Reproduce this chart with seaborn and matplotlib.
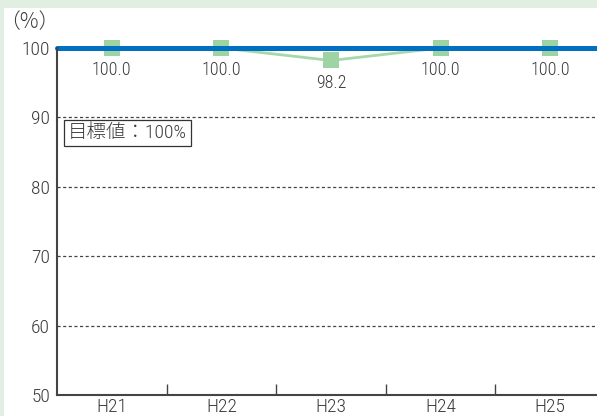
import matplotlib
matplotlib.use("Agg")
import matplotlib.pyplot as plt
import seaborn as sns
import pandas as pd
from matplotlib.patches import Rectangle

categories = ["H21", "H22", "H23", "H24", "H25"]
values = [100.0, 100.0, 98.2, 100.0, 100.0]
target = 100
yticks = [50, 60, 70, 80, 90, 100]
target_label = "目標値：100%"
unit_label = "（%）"

sns.set_style("white")
FONTS = ['Roboto Condensed', 'Archivo Narrow', 'PT Sans Narrow', 'Noto Sans CJK JP', 'DejaVu Sans']
plt.rcParams['font.family'] = FONTS
plt.rcParams['font.weight'] = 'light'
plt.rcParams['xtick.bottom'] = True
plt.rcParams['ytick.left'] = False

TXT = "#3a3a3a"

fig = plt.figure(figsize=(5.97, 4.16), dpi=100)
fig.patch.set_facecolor("#e0efe2")
fig.patches.append(Rectangle((4 / 597, 0), 1, 1 - 8 / 416, transform=fig.transFigure,
                             facecolor="white", edgecolor="none", zorder=-10))

ax = fig.add_axes([57 / 597, 21 / 416, 548 / 597, (395 - 48) / 416])
ax.set_facecolor("none")

df = pd.DataFrame({"x": range(len(categories)), "y": values})
sns.lineplot(data=df, x="x", y="y", ax=ax, color="#a6d8aa", linewidth=2,
             marker="s", markersize=12, markeredgewidth=0,
             markerfacecolor="#9ed3a3", zorder=3, clip_on=False)
ax.axhline(target, color="#0070c0", linewidth=3.6, zorder=4, clip_on=False)

for xi, v in zip(df["x"], values):
    ax.annotate(f"{v:.1f}", (xi, v), xytext=(0, -16), textcoords="offset points",
                ha="center", va="center", fontsize=13, color=TXT)

ax.set_xlim(-0.5, len(categories) - 0.5)
ax.set_ylim(50, 100)
ax.set_yticks(yticks)
ax.set_yticklabels([str(t) for t in yticks], fontsize=14, color=TXT)
ax.set_xticks(range(len(categories)))
ax.set_xticklabels(categories, fontsize=14, color=TXT)
ax.tick_params(axis="x", which="major", length=0, pad=2)
ax.tick_params(axis="y", length=0, pad=5)
ax.set_xticks([i + 0.5 for i in range(len(categories) - 1)], minor=True)
ax.tick_params(axis="x", which="minor", bottom=True, direction="in", length=8, width=1, color="#444444")

for t in yticks[1:-1]:
    ax.axhline(t, color="#444444", linewidth=0.9, linestyle=(0, (2.5, 2)), zorder=1)

for s in ["top", "right"]:
    ax.spines[s].set_visible(False)
for s in ["left", "bottom"]:
    ax.spines[s].set_color("#444444")
    ax.spines[s].set_linewidth(1.5)
ax.spines["left"].set_zorder(5)
ax.set_xlabel("")
ax.set_ylabel("")

ax.text((68 - 57) / 548, (395 - 133) / 347, target_label, transform=ax.transAxes, fontsize=14,
        color=TXT, ha="left", va="center",
        bbox=dict(boxstyle="square,pad=0.2", facecolor="white", edgecolor="#333333", linewidth=0.9))

fig.text(29 / 597, 1 - 22 / 416, unit_label, fontsize=15, color=TXT,
         ha="center", va="center", family=['Noto Sans CJK JP', 'DejaVu Sans'])

fig.savefig("out.png", dpi=100, facecolor=fig.get_facecolor())
